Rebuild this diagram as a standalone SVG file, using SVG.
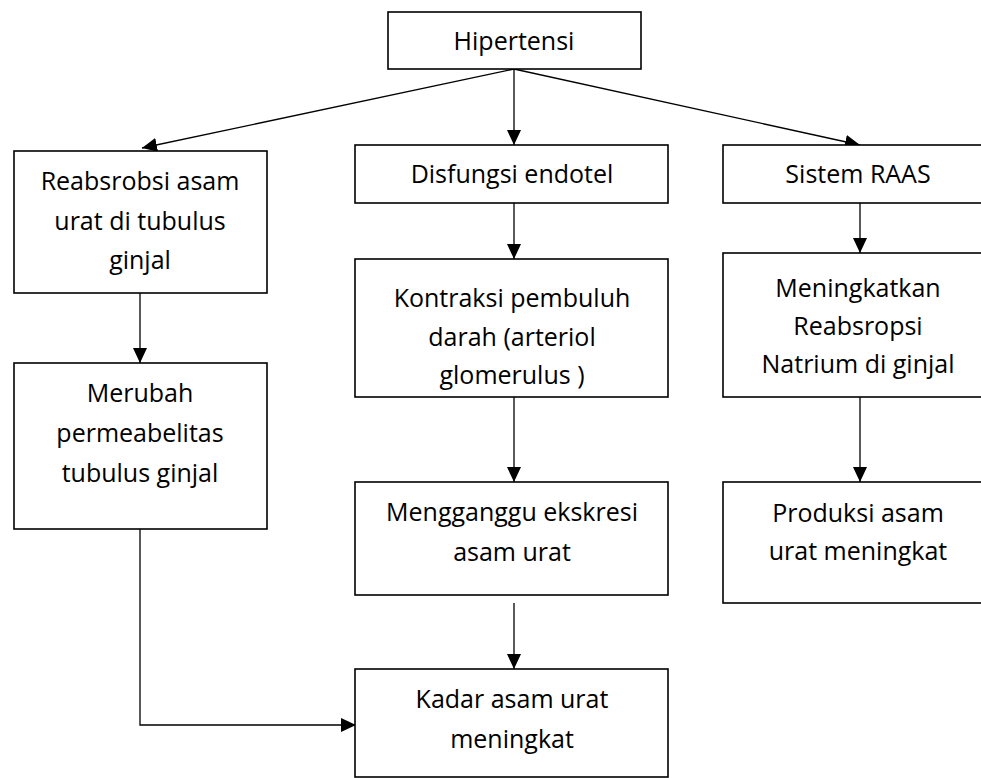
<svg xmlns="http://www.w3.org/2000/svg" width="981" height="778" viewBox="0 0 981 778">
<style>
.box{fill:#fff;stroke:#000;stroke-width:1.6}
.t{font-family:"Open Sans","Noto Sans",sans-serif;font-size:25px;fill:#000;text-anchor:middle}
.c{fill:none;stroke:#000;stroke-width:1.3}
</style>
<defs>
<marker id="ah" markerUnits="userSpaceOnUse" markerWidth="16" markerHeight="16" viewBox="0 0 16 16" refX="15" refY="8" orient="auto">
<path d="M0,1 L15,8 L0,15 Z" fill="#000"/>
</marker>
</defs>
<rect width="981" height="778" fill="#fff"/>
<g id="connectors">
<line class="c" x1="514" y1="69" x2="142" y2="148" marker-end="url(#ah)"/>
<line class="c" x1="514" y1="69" x2="860" y2="145" marker-end="url(#ah)"/>
<line class="c" x1="514" y1="69" x2="514" y2="145" stroke-width="2.2" marker-end="url(#ah)"/>
<line class="c" x1="140" y1="293" x2="140" y2="363" marker-end="url(#ah)"/>
<line class="c" x1="514" y1="203" x2="514" y2="259" marker-end="url(#ah)"/>
<line class="c" x1="514" y1="397" x2="514" y2="482" marker-end="url(#ah)"/>
<line class="c" x1="514" y1="603" x2="514" y2="669" marker-end="url(#ah)"/>
<line class="c" x1="860" y1="203" x2="860" y2="253" marker-end="url(#ah)"/>
<line class="c" x1="860" y1="397" x2="860" y2="482" marker-end="url(#ah)"/>
<polyline class="c" points="140,529 140,725 356,725" marker-end="url(#ah)"/>
</g>
<g id="hipertensi"><rect class="box" x="388" y="12" width="253" height="57"/><text class="t" x="514" y="50">Hipertensi</text></g>
<g id="reabsrobsi"><rect class="box" x="14" y="151" width="253" height="142"/>
<text class="t" x="140" y="190">Reabsrobsi asam</text><text class="t" x="140" y="230">urat di tubulus</text><text class="t" x="140" y="269">ginjal</text></g>
<g id="merubah"><rect class="box" x="14" y="363" width="253" height="166"/>
<text class="t" x="140" y="402">Merubah</text><text class="t" x="140" y="442">permeabelitas</text><text class="t" x="140" y="482">tubulus ginjal</text></g>
<g id="disfungsi"><rect class="box" x="355" y="145" width="313" height="58"/><text class="t" x="512" y="183">Disfungsi endotel</text></g>
<g id="kontraksi"><rect class="box" x="355" y="259" width="313" height="138"/>
<text class="t" x="512" y="307">Kontraksi pembuluh</text><text class="t" x="512" y="346">darah (arteriol</text><text class="t" x="512" y="384">glomerulus )</text></g>
<g id="mengganggu"><rect class="box" x="355" y="482" width="313" height="113"/>
<text class="t" x="512" y="521">Mengganggu ekskresi</text><text class="t" x="512" y="561">asam urat</text></g>
<g id="kadar"><rect class="box" x="355" y="669" width="313" height="108"/>
<text class="t" x="512" y="708">Kadar asam urat</text><text class="t" x="512" y="748">meningkat</text></g>
<g id="raas"><rect class="box" x="723" y="145" width="274" height="58"/><text class="t" x="858" y="183">Sistem RAAS</text></g>
<g id="meningkatkan"><rect class="box" x="723" y="253" width="274" height="144"/>
<text class="t" x="858" y="297">Meningkatkan</text><text class="t" x="858" y="335">Reabsropsi</text><text class="t" x="858" y="373">Natrium di ginjal</text></g>
<g id="produksi"><rect class="box" x="723" y="482" width="274" height="121"/>
<text class="t" x="858" y="522">Produksi asam</text><text class="t" x="858" y="560">urat meningkat</text></g>
</svg>
